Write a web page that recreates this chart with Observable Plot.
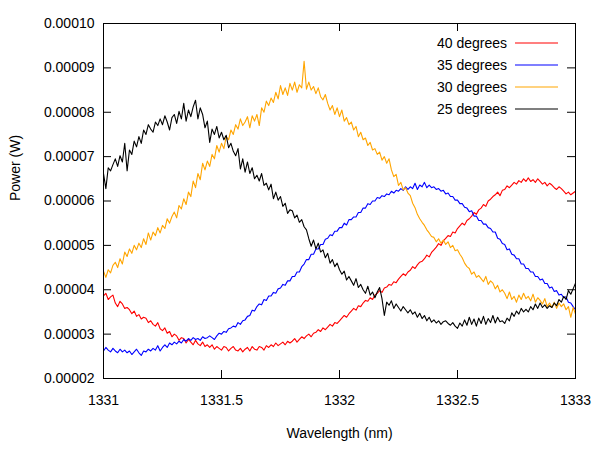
<!DOCTYPE html>
<html>
<head>
<meta charset="utf-8">
<script src="https://cdn.jsdelivr.net/npm/d3@7"></script>
<script src="https://cdn.jsdelivr.net/npm/@observablehq/plot@0.6"></script>
<style>
  html, body { margin: 0; padding: 0; background: #fff; }
  #chart { width: 600px; height: 450px; }
  svg { font-family: "Liberation Sans", Arial, Helvetica, sans-serif; }
</style>
</head>
<body>
<div id="chart"></div>
<script>
// Wavelength grid (nm)
const wlStart = 1331;
const wlStep = 0.01;
// Power values in units of 1e-5 W, one per grid point
const UNIT = 1e-5;

const series = ["40 degrees", "35 degrees", "30 degrees", "25 degrees"];
const colors = ["#ff0000", "#0000ff", "#ffa500", "#000000"];

const p40 = [
3.86,3.92,3.78,3.84,3.88, 3.70,3.62,3.74,3.68,3.58, 3.60,3.55,3.46,3.52,3.40, 3.44,3.34,3.38,3.36,3.26,
3.30,3.22,3.18,3.26,3.12, 3.08,3.14,3.02,3.06,2.94, 3.00,2.96,2.86,2.92,2.90, 2.80,2.88,2.82,2.76,2.86,
2.78,2.74,2.82,2.72,2.76, 2.70,2.76,2.66,2.72,2.68, 2.64,2.72,2.70,2.62,2.68, 2.72,2.64,2.62,2.68,2.60,
2.66,2.70,2.62,2.72,2.66, 2.64,2.72,2.70,2.64,2.74, 2.70,2.76,2.72,2.80,2.74, 2.78,2.82,2.76,2.84,2.80,
2.84,2.90,2.82,2.88,2.94, 2.90,2.96,3.00,2.94,3.02, 3.04,3.10,3.06,3.14,3.10, 3.16,3.22,3.18,3.26,3.24,
3.30,3.36,3.42,3.38,3.46, 3.52,3.58,3.54,3.64,3.62, 3.70,3.76,3.74,3.82,3.78, 3.88,3.92,3.98,3.94,4.04,
4.06,4.12,4.10,4.18,4.16, 4.24,4.30,4.36,4.32,4.40, 4.44,4.52,4.48,4.56,4.62, 4.64,4.70,4.78,4.74,4.84,
4.90,4.96,5.04,5.00,5.10, 5.16,5.22,5.20,5.30,5.28, 5.38,5.44,5.50,5.46,5.56, 5.60,5.66,5.74,5.70,5.80,
5.84,5.92,5.88,6.00,6.04, 6.10,6.14,6.20,6.12,6.24, 6.26,6.34,6.30,6.36,6.42, 6.38,6.46,6.42,6.50,6.44,
6.52,6.44,6.48,6.42,6.50, 6.44,6.38,6.42,6.34,6.40, 6.36,6.30,6.26,6.32,6.28, 6.22,6.16,6.20,6.14,6.18,
6.22
];

const p35 = [
2.62,2.70,2.64,2.60,2.68, 2.62,2.58,2.66,2.60,2.64, 2.58,2.62,2.54,2.60,2.66, 2.58,2.52,2.62,2.60,2.66,
2.62,2.68,2.64,2.74,2.62, 2.70,2.76,2.70,2.80,2.76, 2.82,2.78,2.84,2.80,2.88, 2.84,2.90,2.86,2.92,2.88,
2.90,2.86,2.94,2.90,2.92, 2.96,2.92,2.88,2.96,3.02, 3.00,3.06,3.04,3.12,3.14, 3.18,3.16,3.26,3.22,3.30,
3.32,3.40,3.42,3.54,3.52, 3.62,3.68,3.66,3.78,3.76, 3.86,3.86,3.94,3.92,4.02, 4.04,4.12,4.10,4.20,4.20,
4.30,4.30,4.40,4.40,4.52, 4.58,4.68,4.68,4.80,4.80, 4.92,4.92,5.02,5.02,5.14, 5.16,5.24,5.22,5.32,5.32,
5.40,5.40,5.50,5.46,5.58, 5.58,5.64,5.64,5.74,5.74, 5.84,5.84,5.94,5.92,6.00, 6.00,6.08,6.06,6.12,6.10,
6.16,6.14,6.22,6.18,6.24, 6.22,6.28,6.24,6.32,6.26, 6.32,6.28,6.40,6.26,6.36, 6.32,6.42,6.30,6.36,6.30,
6.32,6.26,6.28,6.22,6.24, 6.16,6.18,6.10,6.10,6.02, 6.02,5.94,5.94,5.86,5.84, 5.76,5.78,5.66,5.66,5.56,
5.56,5.48,5.48,5.40,5.38, 5.30,5.30,5.16,5.14,5.04, 5.02,4.90,4.92,4.80,4.78, 4.70,4.70,4.58,4.58,4.48,
4.48,4.40,4.40,4.30,4.30, 4.22,4.24,4.14,4.14,4.04, 4.06,3.96,3.98,3.88,3.90, 3.82,3.84,3.72,3.70,3.62,
3.55
];

const p30 = [
4.42,4.28,4.45,4.38,4.55, 4.62,4.50,4.70,4.58,4.85, 4.75,4.92,4.82,5.00,4.90, 5.05,4.95,5.15,5.02,5.28,
5.12,5.30,5.22,5.40,5.28, 5.45,5.38,5.60,5.50,5.65, 5.75,5.62,5.90,5.82,6.05, 5.92,6.20,6.10,6.45,6.30,
6.62,6.48,6.85,6.70,6.90, 6.78,7.05,6.95,7.25,7.10, 7.30,7.18,7.45,7.38,7.60, 7.50,7.72,7.62,7.85,7.70,
7.78,7.90,7.65,7.92,7.80, 7.95,7.70,8.10,8.00,8.25, 8.15,8.32,8.22,8.45,8.30, 8.60,8.40,8.55,8.38,8.65,
8.50,8.68,8.45,8.62,8.55, 9.15,8.52,8.68,8.50,8.58, 8.42,8.55,8.35,8.28,8.40, 8.20,8.05,8.15,7.95,8.10,
7.90,8.05,7.80,7.88,7.72, 7.78,7.60,7.68,7.45,7.55, 7.38,7.42,7.25,7.32,7.15, 7.18,7.05,7.10,6.92,7.00,
6.85,6.95,6.70,6.55,6.60, 6.35,6.42,6.25,6.30,6.18, 6.12,5.95,5.85,5.70,5.60, 5.52,5.45,5.35,5.28,5.20,
5.18,5.08,5.15,5.05,5.12, 5.02,5.08,4.95,5.00,4.88, 4.90,4.80,4.72,4.60,4.52, 4.48,4.35,4.40,4.28,4.32,
4.25,4.18,4.30,4.12,4.20, 4.15,4.02,4.10,3.95,4.00, 3.92,3.80,3.95,3.78,3.85, 3.72,3.88,3.78,3.92,3.80,
3.85,3.75,3.90,3.72,3.82, 3.76,3.68,3.80,3.62,3.70, 3.60,3.72,3.58,3.70,3.62, 3.68,3.55,3.62,3.38,3.60,
3.45
];

const p25 = [
6.62,6.28,6.75,6.68,6.82, 6.95,6.78,7.02,6.88,7.30, 6.68,7.15,7.05,7.35,7.22, 7.45,7.30,7.60,7.50,7.72,
7.62,7.55,7.78,7.70,7.85, 7.72,7.92,7.78,7.60,7.88, 7.95,7.75,8.02,7.85,8.20, 7.80,8.05,7.90,8.12,8.27,
7.85,8.10,7.95,7.65,7.80, 7.32,7.62,7.50,7.68,7.42, 7.55,7.38,7.48,7.20,7.30, 7.12,7.02,7.18,6.72,6.95,
6.65,6.88,6.62,6.75,6.50, 6.58,6.45,6.62,6.35,6.40, 6.25,6.38,6.05,6.20,6.02, 6.10,5.88,5.95,5.72,5.80,
5.78,5.62,5.68,5.52,5.58, 5.42,5.35,5.15,4.98,5.12, 4.92,5.05,4.85,4.90,4.72, 4.82,4.60,4.68,4.52,4.60,
4.45,4.35,4.42,4.22,4.30, 4.20,4.10,4.25,4.05,4.12, 4.00,3.92,4.08,3.88,3.95, 3.82,3.95,4.05,3.80,3.42,
3.72,3.65,3.75,3.58,3.68, 3.60,3.52,3.62,3.55,3.48, 3.55,3.45,3.50,3.38,3.47, 3.35,3.42,3.30,3.38,3.27,
3.32,3.25,3.30,3.22,3.28, 3.30,3.24,3.20,3.26,3.18, 3.13,3.25,3.18,3.32,3.20, 3.38,3.22,3.34,3.18,3.36,
3.24,3.40,3.22,3.35,3.26, 3.42,3.25,3.38,3.28,3.30, 3.24,3.36,3.30,3.48,3.40, 3.52,3.45,3.58,3.50,3.56,
3.50,3.62,3.55,3.68,3.58, 3.70,3.60,3.66,3.58,3.64, 3.60,3.70,3.64,3.78,3.72, 3.85,3.78,3.98,3.90,4.02,
4.15
];

const xTicks = [1331, 1331.5, 1332, 1332.5, 1333];
const yTicks = [0.00002, 0.00003, 0.00004, 0.00005, 0.00006, 0.00007, 0.00008, 0.00009, 0.00010];

// Build long-format table
const allSeries = [p40, p35, p30, p25];
const rows = [];
allSeries.forEach((arr, s) => {
  arr.forEach((v, i) => {
    rows.push({series: series[s], wl: wlStart + i * wlStep, power: v * UNIT});
  });
});

const W = 600, H = 450;
const mL = 103, mR = 25, mT = 23, mB = 72;
const pw = W - mL - mR, ph = H - mT - mB;
const tick = 8;
const FS = 14;
const LW = 1.1;

const legendMark = (index, scales, values, dims) => {
  const g = d3.create("svg:g");
  const right = dims.width - dims.marginRight;
  series.forEach((name, i) => {
    const y = dims.marginTop + 20 + i * 22;
    g.append("text")
      .attr("x", right - 68).attr("y", y)
      .attr("text-anchor", "end")
      .attr("dy", "0.35em")
      .attr("font-size", FS)
      .attr("fill", "#000")
      .text(name);
    g.append("line")
      .attr("x1", right - 60).attr("x2", right - 17)
      .attr("y1", y).attr("y2", y)
      .style("stroke", colors[i]).style("stroke-width", LW);
  });
  return g.node();
};

const chart = Plot.plot({
  width: W, height: H,
  marginLeft: mL, marginRight: mR, marginTop: mT, marginBottom: mB,
  style: {fontSize: FS + "px", fontFamily: "'Liberation Sans', Arial, sans-serif", color: "#000", background: "#fff"},
  x: {domain: [1331, 1333]},
  y: {domain: [0.00002, 0.0001]},
  color: {domain: series, range: colors},
  marks: [
    Plot.line(rows, {x: "wl", y: "power", z: "series", stroke: "series", strokeWidth: LW}),
    Plot.frame({stroke: "#000", strokeWidth: 1}),
    // inward ticks on all four sides
    Plot.tickY(yTicks, {y: d => d, insetRight: pw - tick, stroke: "#000"}),
    Plot.tickY(yTicks, {y: d => d, insetLeft: pw - tick, stroke: "#000"}),
    Plot.tickX(xTicks, {x: d => d, insetTop: ph - tick, stroke: "#000"}),
    Plot.tickX(xTicks, {x: d => d, insetBottom: ph - tick, stroke: "#000"}),
    Plot.axisY(yTicks, {tickSize: 0, tickPadding: 9, tickFormat: d3.format(".5f"), label: null, fontSize: FS}),
    Plot.axisX(xTicks, {tickSize: 0, tickPadding: 17, tickFormat: d => String(d), label: null, fontSize: FS}),
    Plot.text(["Wavelength (nm)"], {frameAnchor: "bottom", dy: 59, text: d => d, fontSize: FS, fill: "#000"}),
    Plot.text(["Power (W)"], {frameAnchor: "left", dx: -88, rotate: -90, text: d => d, fontSize: FS, fill: "#000"}),
    legendMark
  ]
});

document.getElementById("chart").appendChild(chart);
</script>
</body>
</html>
